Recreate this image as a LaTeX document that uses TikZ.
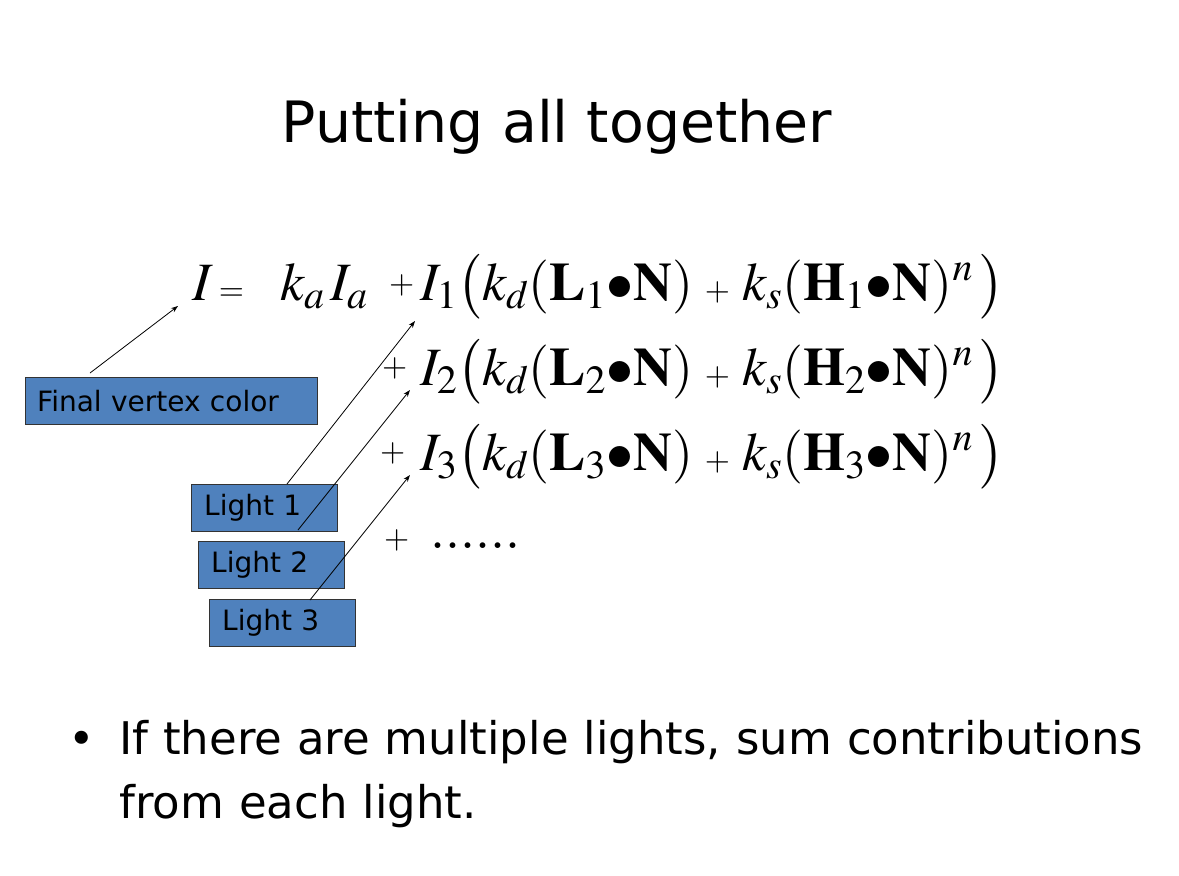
\documentclass[tikz,border=0pt]{standalone}
\usetikzlibrary{arrows.meta}
\usepackage{amsmath}
\usepackage{mathptmx}
\usepackage{fontspec}
\setmainfont{DejaVu Sans}
\begin{document}
\begin{tikzpicture}[x=1pt,y=-1pt,
  lbl/.style={draw=black!80,fill={rgb,255:red,79;green,129;blue,189},anchor=north west,inner sep=0pt,font=\fontsize{28}{30}\selectfont,minimum height=47pt,align=left},
  arr/.style={-{Stealth[length=7pt,width=5pt]},thick},
  eq/.style={anchor=base west,inner sep=0pt,font=\fontsize{54}{60}\selectfont}]
\useasboundingbox[fill=white] (0,0) rectangle (1179,876);
\node[anchor=base,font=\fontsize{57}{60}\selectfont] (title) at (557,142) {Putting all together};
\node[eq] (r0) at (192,300) {$I\,{\scriptscriptstyle =}\;\;\; k_a\,I_a$};
\node[eq] (p1) at (389,293) {$\scriptscriptstyle +$};
\node[eq] (r1) at (420,300) {$I_1\bigl(k_d(\mathbf{L}_1{\bullet}\mathbf{N})\;{\scriptscriptstyle +}\;k_s(\mathbf{H}_1{\bullet}\mathbf{N})^n\,\bigr)$};
\node[eq] (r2) at (420,385) {$I_2\bigl(k_d(\mathbf{L}_2{\bullet}\mathbf{N})\;{\scriptscriptstyle +}\;k_s(\mathbf{H}_2{\bullet}\mathbf{N})^n\,\bigr)$};
\node[eq] (r3) at (420,470) {$I_3\bigl(k_d(\mathbf{L}_3{\bullet}\mathbf{N})\;{\scriptscriptstyle +}\;k_s(\mathbf{H}_3{\bullet}\mathbf{N})^n\,\bigr)$};
\node[eq] (p2) at (382,376) {$\scriptscriptstyle +$};
\node[eq] (p3) at (380,461) {$\scriptscriptstyle +$};
\node[eq] (p4) at (384,548) {$\scriptscriptstyle +\;\;\; \textstyle......$};
\node[lbl,text width=292pt] (fv) at (25,377) {\hspace*{12pt}Final vertex color};
\node[lbl,text width=146pt] (l1) at (191,484) {\hspace*{13pt}Light 1};
\node[lbl,text width=146pt] (l2) at (198,541) {\hspace*{13pt}Light 2};
\node[lbl,text width=146pt] (l3) at (209,599) {\hspace*{13pt}Light 3};
\coordinate (a0) at (90,373); \coordinate (b0) at (178,306);
\coordinate (a1) at (287,484); \coordinate (b1) at (415,321);
\coordinate (a2) at (298,530); \coordinate (b2) at (410,390);
\coordinate (a3) at (310,600); \coordinate (b3) at (410,475);
\draw[arr] (a0) -- (b0);
\draw[arr] (a1) -- (b1);
\draw[arr] (a2) -- (b2);
\draw[arr] (a3) -- (b3);
\node[anchor=base west,font=\fontsize{45}{64}\selectfont,align=left,text width=1150pt] (bul) at (65,754) {\textbullet\hspace{24pt}If there are multiple lights, sum contributions\\\hspace*{51pt}from each light.};
\end{tikzpicture}
\end{document}
